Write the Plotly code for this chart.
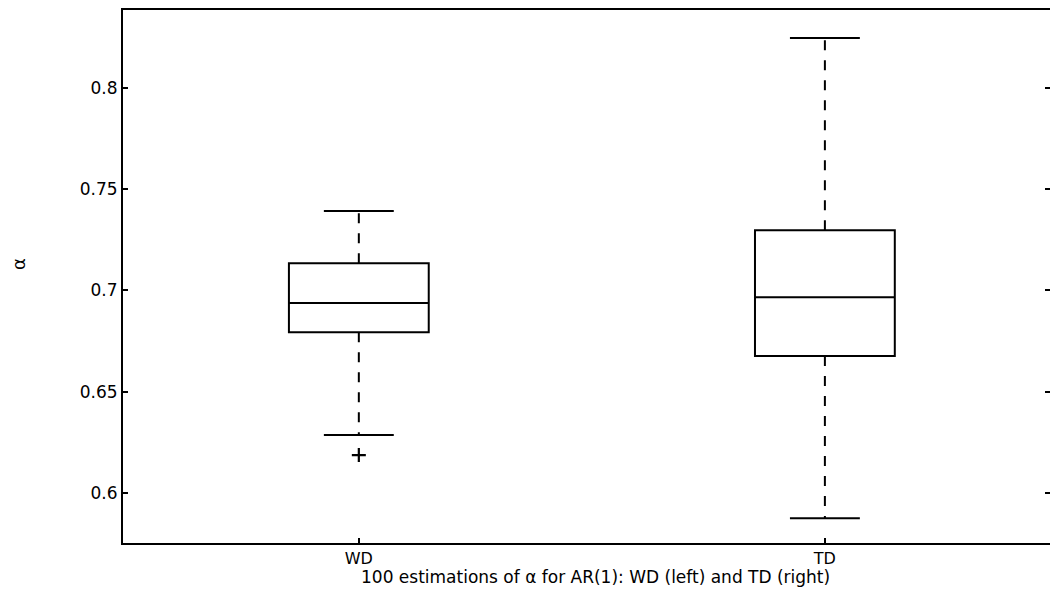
import plotly.graph_objects as go

# Summary statistics of the 100 estimations of alpha for each method
labels = ["WD", "TD"]
positions = [1, 2]
q1 = [0.6794, 0.6676]
median = [0.6938, 0.6967]
q3 = [0.7135, 0.7298]
whisker_low = [0.6286, 0.5875]
whisker_high = [0.7392, 0.8247]
outlier_pos = [1]
outlier_val = [0.6187]

y_ticks = [0.6, 0.65, 0.7, 0.75, 0.8]
y_tick_text = ["0.6", "0.65", "0.7", "0.75", "0.8"]

BOX_W = 0.3
CAP_W = 0.15
INK = "black"
FONT = "DejaVu Sans"
LW = 2

fig = go.Figure()

# Boxes (quartiles + median line)
for p, a, m, b in zip(positions, q1, median, q3):
    fig.add_trace(go.Box(
        x=[p], q1=[a], median=[m], q3=[b],
        lowerfence=[a], upperfence=[b],
        width=BOX_W, whiskerwidth=0,
        line=dict(color=INK, width=LW),
        fillcolor="rgba(0,0,0,0)",
        boxpoints=False, hoverinfo="skip", showlegend=False,
    ))

# Dashed whiskers and solid caps
for p, a, b, lo, hi in zip(positions, q1, q3, whisker_low, whisker_high):
    for start, end in ((b, hi), (a, lo)):
        fig.add_trace(go.Scatter(
            x=[p, p], y=[start, end], mode="lines",
            line=dict(color=INK, width=LW, dash="10px,10px"),
            hoverinfo="skip", showlegend=False,
        ))
        fig.add_trace(go.Scatter(
            x=[p - CAP_W / 2, p + CAP_W / 2], y=[end, end], mode="lines",
            line=dict(color=INK, width=LW),
            hoverinfo="skip", showlegend=False,
        ))

# Outlier
fig.add_trace(go.Scatter(
    x=outlier_pos, y=outlier_val, mode="markers",
    marker=dict(symbol="cross-thin", size=10, line=dict(color=INK, width=2.2)),
    hoverinfo="skip", showlegend=False,
))

# Invisible trace so the right-hand tick axis is drawn
fig.add_trace(go.Scatter(x=[positions[0]], y=[y_ticks[0]], yaxis="y2",
                         mode="markers", marker=dict(opacity=0),
                         hoverinfo="skip", showlegend=False))

y_range = [0.5753, 0.8385]

fig.update_layout(
    width=1050, height=589,
    margin=dict(l=123, r=0, t=10, b=46),
    paper_bgcolor="white", plot_bgcolor="white",
    font=dict(family=FONT, size=16, color=INK),
    xaxis=dict(
        range=[0.494, 2.483],
        tickvals=positions, ticktext=labels,
        ticks="inside", ticklen=5, tickwidth=1.5, tickcolor=INK,
        showline=True, linecolor=INK, linewidth=LW, mirror=True,
        showgrid=False, zeroline=False,
        tickfont=dict(family=FONT, size=16, color=INK),
        ticklabelstandoff=0,
    ),
    yaxis=dict(
        range=y_range,
        tickvals=y_ticks, ticktext=y_tick_text,
        ticks="inside", ticklen=5, tickwidth=1.5, tickcolor=INK,
        showline=True, linecolor=INK, linewidth=LW,
        showgrid=False, zeroline=False,
        tickfont=dict(family=FONT, size=17, color=INK),
    ),
    yaxis2=dict(
        range=y_range, overlaying="y", side="right",
        tickvals=y_ticks, showticklabels=False,
        ticks="inside", ticklen=5, tickwidth=1.5, tickcolor=INK,
        showline=False, showgrid=False, zeroline=False,
    ),
    annotations=[
        dict(text="100 estimations of α for AR(1): WD (left) and TD (right)",
             xref="paper", yref="paper", x=0.510, y=-0.0640,
             xanchor="center", yanchor="middle", showarrow=False,
             font=dict(family=FONT, size=17, color=INK)),
        dict(text="α", xref="paper", yref="paper", x=-0.1122, y=0.5235,
             xanchor="center", yanchor="middle", textangle=-90, showarrow=False,
             font=dict(family=FONT, size=18, color=INK)),
    ],
)

fig.write_html("out.html")
